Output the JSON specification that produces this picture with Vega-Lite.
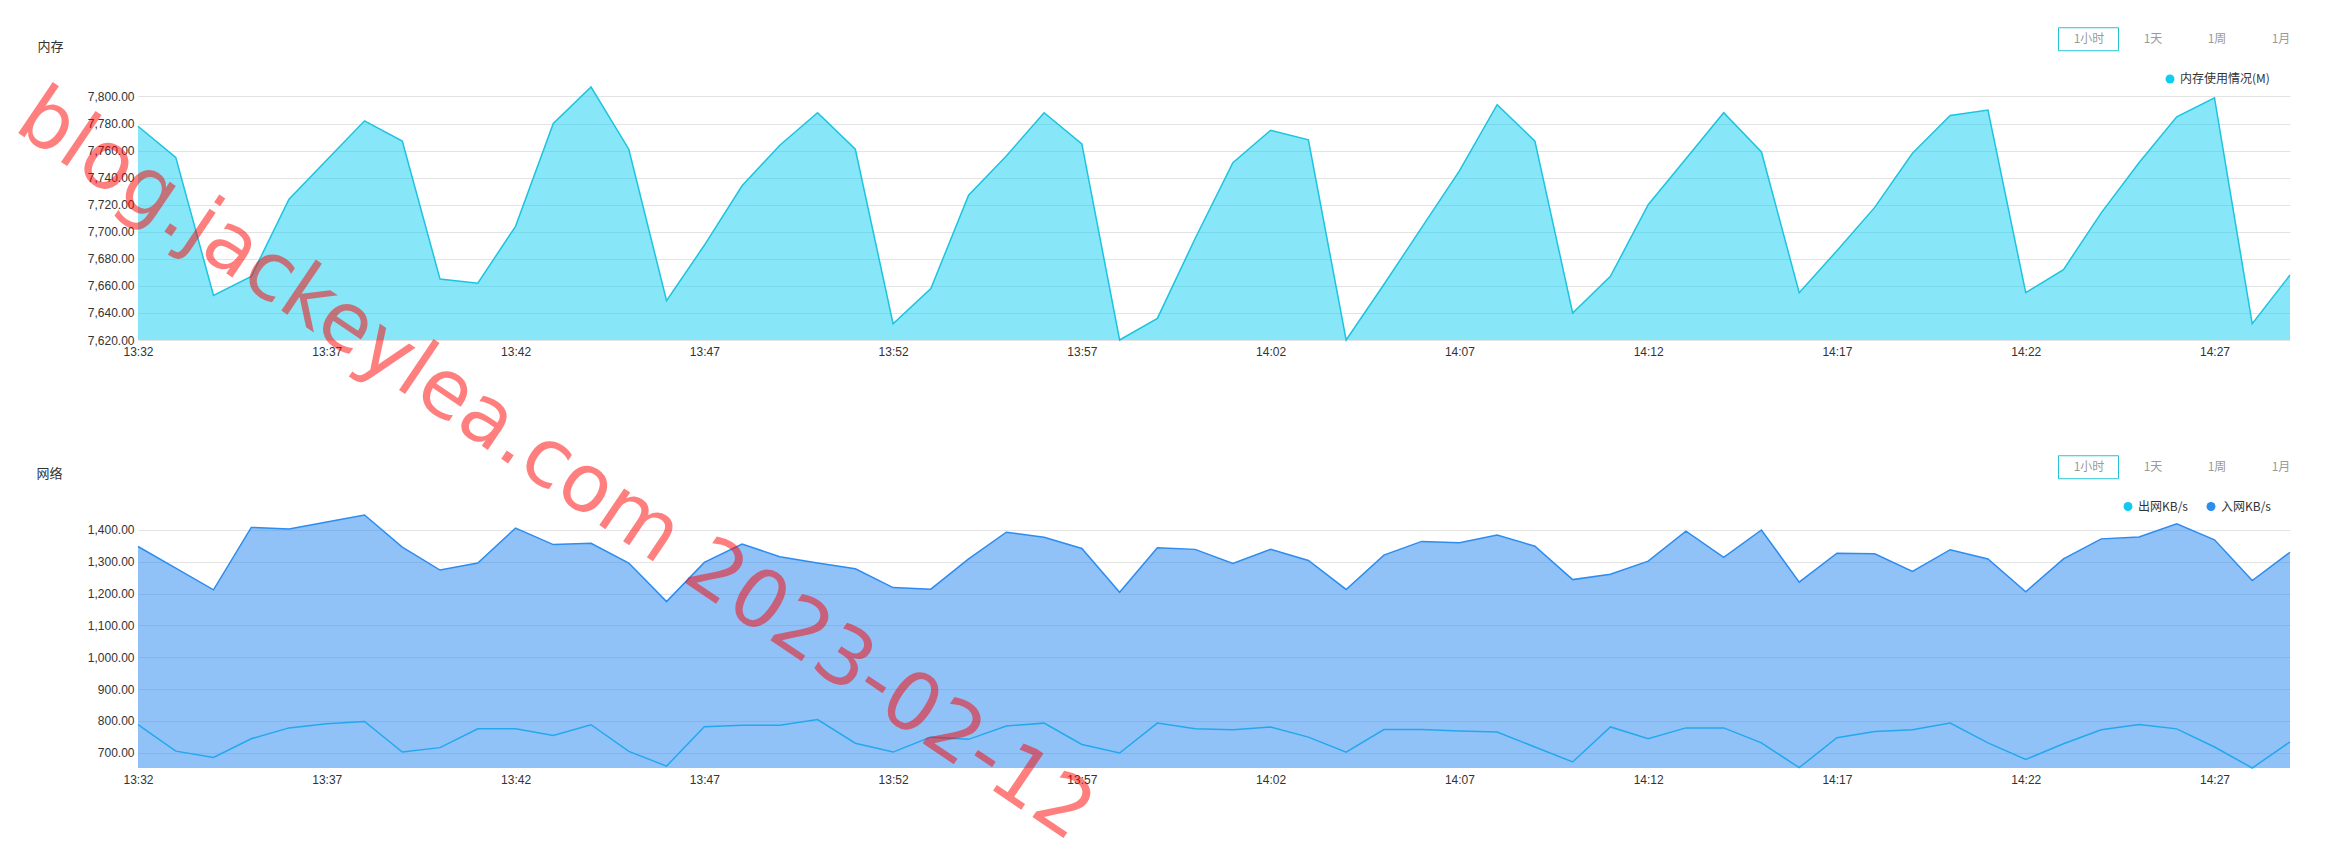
{
  "$schema": "https://vega.github.io/schema/vega-lite/v6.json",
  "background": "white",
  "padding": {"left": 3, "top": 27, "right": 0, "bottom": 0},
  "spacing": 175,
  "bounds": "flush",
  "config": {
    "view": {"stroke": null},
    "axis": {"labelFont": "Liberation Sans", "labelFontSize": 12, "labelColor": "#333", "ticks": false, "tickSize": 0, "domain": false, "gridColor": "#e3e3e3", "gridWidth": 1, "titleFont": "Noto Sans CJK SC", "titleFontSize": 13, "titleFontWeight": "normal", "titleColor": "#333", "labelOverlap": false},
    "axisX": {"grid": false, "labelPadding": 6, "labelFlush": false},
    "axisY": {"grid": true, "labelPadding": 4},
    "legend": {"padding": 0, "labelFont": "Noto Sans CJK SC", "labelFontSize": 12}
  },
  "resolve": {"scale": {"color": "independent", "stroke": "independent"}, "legend": {"color": "independent", "stroke": "independent"}},
  "vconcat": [
    {
      "width": 2152,
      "height": 253,
      "data": {
        "values": [
          {"t":"13:32","mem":7778},{"t":"13:33","mem":7755},{"t":"13:34","mem":7653},{"t":"13:35","mem":7667},{"t":"13:36","mem":7724},{"t":"13:37","mem":7753},{"t":"13:38","mem":7782},{"t":"13:39","mem":7767},{"t":"13:40","mem":7665},{"t":"13:41","mem":7662},
          {"t":"13:42","mem":7704},{"t":"13:43","mem":7780},{"t":"13:44","mem":7807},{"t":"13:45","mem":7761},{"t":"13:46","mem":7649},{"t":"13:47","mem":7690},{"t":"13:48","mem":7734},{"t":"13:49","mem":7764},{"t":"13:50","mem":7788},{"t":"13:51","mem":7761},
          {"t":"13:52","mem":7632},{"t":"13:53","mem":7658},{"t":"13:54","mem":7727},{"t":"13:55","mem":7756},{"t":"13:56","mem":7788},{"t":"13:57","mem":7765},{"t":"13:58","mem":7620},{"t":"13:59","mem":7636},{"t":"14:00","mem":7695},{"t":"14:01","mem":7751},
          {"t":"14:02","mem":7775},{"t":"14:03","mem":7768},{"t":"14:04","mem":7620},{"t":"14:05","mem":7661},{"t":"14:06","mem":7703},{"t":"14:07","mem":7745},{"t":"14:08","mem":7794},{"t":"14:09","mem":7767},{"t":"14:10","mem":7640},{"t":"14:11","mem":7667},
          {"t":"14:12","mem":7720},{"t":"14:13","mem":7754},{"t":"14:14","mem":7788},{"t":"14:15","mem":7759},{"t":"14:16","mem":7655},{"t":"14:17","mem":7686},{"t":"14:18","mem":7718},{"t":"14:19","mem":7758},{"t":"14:20","mem":7786},{"t":"14:21","mem":7790},
          {"t":"14:22","mem":7655},{"t":"14:23","mem":7672},{"t":"14:24","mem":7714},{"t":"14:25","mem":7751},{"t":"14:26","mem":7785},{"t":"14:27","mem":7799},{"t":"14:28","mem":7632},{"t":"14:29","mem":7668}
        ],
        "format": {"parse": {"t": "date:'%H:%M'"}}
      },
      "transform": [{"fold": ["mem"], "as": ["s", "v"]}],
      "layer": [
        {
          "mark": {"type": "area", "fillOpacity": 0.5},
          "encoding": {
            "x": {
              "field": "t", "type": "temporal",
              "scale": {"domain": [{"year":1900,"month":1,"date":1,"hours":13,"minutes":32},{"year":1900,"month":1,"date":1,"hours":14,"minutes":29}], "nice": false},
              "axis": {"title": null, "format": "%H:%M", "tickCount": 60, "labelOverlap": false, "values": [
                {"year":1900,"month":1,"date":1,"hours":13,"minutes":32},{"year":1900,"month":1,"date":1,"hours":13,"minutes":37},{"year":1900,"month":1,"date":1,"hours":13,"minutes":42},{"year":1900,"month":1,"date":1,"hours":13,"minutes":47},
                {"year":1900,"month":1,"date":1,"hours":13,"minutes":52},{"year":1900,"month":1,"date":1,"hours":13,"minutes":57},{"year":1900,"month":1,"date":1,"hours":14,"minutes":2},{"year":1900,"month":1,"date":1,"hours":14,"minutes":7},
                {"year":1900,"month":1,"date":1,"hours":14,"minutes":12},{"year":1900,"month":1,"date":1,"hours":14,"minutes":17},{"year":1900,"month":1,"date":1,"hours":14,"minutes":22},{"year":1900,"month":1,"date":1,"hours":14,"minutes":27}]}
            },
            "y": {
              "field": "v", "type": "quantitative",
              "scale": {"domain": [7620, 7807], "zero": false, "nice": false},
              "axis": {"values": [7620,7640,7660,7680,7700,7720,7740,7760,7780,7800], "tickCount": 20, "labelOverlap": false, "format": ",.2f", "title": "内存", "titleAngle": 0, "titleAlign": "left", "titleBaseline": "middle", "titleX": -101, "titleY": -41}
            },
            "y2": {"datum": 7620},
            "color": {
              "field": "s", "type": "nominal",
              "scale": {"domain": ["mem"], "range": ["#0fcdf0"]},
              "legend": {"orient": "none", "legendX": 2026, "legendY": -14, "title": null, "symbolType": "circle", "symbolSize": 80, "symbolOpacity": 1, "symbolStrokeWidth": 0, "labelColor": "#333", "labelOffset": 4, "labelExpr": "'内存使用情况(M)'", "encode": {"symbols": {"update": {"fillOpacity": {"value": 1}}}}}
            }
          }
        },
        {
          "mark": {"type": "line", "stroke": "#1cc4e0", "strokeWidth": 1.5},
          "encoding": {"x": {"field": "t", "type": "temporal"}, "y": {"field": "v", "type": "quantitative"}}
        },
        {
          "data": {"values": [{"b":"1小时"},{"b":"1天"},{"b":"1周"},{"b":"1月"}]},
          "mark": {"type": "point", "filled": false, "size": 0, "opacity": 0},
          "encoding": {
            "stroke": {
              "field": "b", "type": "nominal",
              "scale": {"domain": ["1小时","1天","1周","1月"], "range": ["#25c2d6","transparent","transparent","transparent"]},
              "legend": {"orient": "none", "legendX": 1920, "legendY": -60, "direction": "horizontal", "title": null, "symbolType": "M-1,-1H4.2174V1H-1Z", "symbolSize": 529, "symbolStrokeWidth": 1, "symbolOpacity": 1, "symbolFillColor": "transparent", "labelOffset": 7, "labelAlign": "center", "labelBaseline": "middle", "labelColor": "#9a9a9a", "columnPadding": -1}
            }
          }
        }
      ]
    },
    {
      "width": 2152,
      "height": 253,
      "data": {
        "values": [
          {"t":"13:32","out":788,"in":1348},{"t":"13:33","out":705,"in":1280},{"t":"13:34","out":685,"in":1212},{"t":"13:35","out":744,"in":1408},{"t":"13:36","out":778,"in":1403},{"t":"13:37","out":791,"in":1425},{"t":"13:38","out":798,"in":1447},{"t":"13:39","out":702,"in":1346},{"t":"13:40","out":716,"in":1274},{"t":"13:41","out":775,"in":1296},
          {"t":"13:42","out":775,"in":1406},{"t":"13:43","out":754,"in":1354},{"t":"13:44","out":788,"in":1358},{"t":"13:45","out":704,"in":1296},{"t":"13:46","out":658,"in":1175},{"t":"13:47","out":782,"in":1298},{"t":"13:48","out":786,"in":1356},{"t":"13:49","out":786,"in":1316},{"t":"13:50","out":804,"in":1296},{"t":"13:51","out":730,"in":1278},
          {"t":"13:52","out":702,"in":1219},{"t":"13:53","out":749,"in":1214},{"t":"13:54","out":742,"in":1309},{"t":"13:55","out":784,"in":1393},{"t":"13:56","out":793,"in":1377},{"t":"13:57","out":726,"in":1342},{"t":"13:58","out":699,"in":1204},{"t":"13:59","out":793,"in":1344},{"t":"14:00","out":775,"in":1339},{"t":"14:01","out":772,"in":1295},
          {"t":"14:02","out":781,"in":1339},{"t":"14:03","out":749,"in":1304},{"t":"14:04","out":702,"in":1213},{"t":"14:05","out":773,"in":1321},{"t":"14:06","out":773,"in":1364},{"t":"14:07","out":768,"in":1360},{"t":"14:08","out":765,"in":1384},{"t":"14:09","out":718,"in":1349},{"t":"14:10","out":671,"in":1244},{"t":"14:11","out":781,"in":1261},
          {"t":"14:12","out":744,"in":1302},{"t":"14:13","out":778,"in":1396},{"t":"14:14","out":778,"in":1314},{"t":"14:15","out":731,"in":1400},{"t":"14:16","out":653,"in":1236},{"t":"14:17","out":747,"in":1327},{"t":"14:18","out":767,"in":1325},{"t":"14:19","out":772,"in":1270},{"t":"14:20","out":793,"in":1338},{"t":"14:21","out":731,"in":1309},
          {"t":"14:22","out":679,"in":1206},{"t":"14:23","out":728,"in":1309},{"t":"14:24","out":772,"in":1372},{"t":"14:25","out":789,"in":1378},{"t":"14:26","out":775,"in":1419},{"t":"14:27","out":718,"in":1369},{"t":"14:28","out":652,"in":1241},{"t":"14:29","out":734,"in":1330}
        ],
        "format": {"parse": {"t": "date:'%H:%M'"}}
      },
      "transform": [{"fold": ["out", "in"], "as": ["s", "v"]}],
      "layer": [
        {
          "transform": [{"filter": "datum.s == 'out'"}],
          "mark": {"type": "line", "stroke": "#18c8ee", "strokeWidth": 1.5},
          "encoding": {
            "x": {
              "field": "t", "type": "temporal",
              "scale": {"domain": [{"year":1900,"month":1,"date":1,"hours":13,"minutes":32},{"year":1900,"month":1,"date":1,"hours":14,"minutes":29}], "nice": false},
              "axis": {"title": null, "format": "%H:%M", "tickCount": 60, "labelOverlap": false, "values": [
                {"year":1900,"month":1,"date":1,"hours":13,"minutes":32},{"year":1900,"month":1,"date":1,"hours":13,"minutes":37},{"year":1900,"month":1,"date":1,"hours":13,"minutes":42},{"year":1900,"month":1,"date":1,"hours":13,"minutes":47},
                {"year":1900,"month":1,"date":1,"hours":13,"minutes":52},{"year":1900,"month":1,"date":1,"hours":13,"minutes":57},{"year":1900,"month":1,"date":1,"hours":14,"minutes":2},{"year":1900,"month":1,"date":1,"hours":14,"minutes":7},
                {"year":1900,"month":1,"date":1,"hours":14,"minutes":12},{"year":1900,"month":1,"date":1,"hours":14,"minutes":17},{"year":1900,"month":1,"date":1,"hours":14,"minutes":22},{"year":1900,"month":1,"date":1,"hours":14,"minutes":27}]}
            },
            "y": {
              "field": "v", "type": "quantitative",
              "scale": {"domain": [652, 1447], "zero": false, "nice": false},
              "axis": {"values": [700,800,900,1000,1100,1200,1300,1400], "tickCount": 20, "labelOverlap": false, "format": ",.2f", "title": "网络", "titleAngle": 0, "titleAlign": "left", "titleBaseline": "middle", "titleX": -102, "titleY": -42}
            }
          }
        },
        {
          "transform": [{"filter": "datum.s == 'in'"}],
          "mark": {"type": "area", "fillOpacity": 0.53},
          "encoding": {
            "x": {"field": "t", "type": "temporal"},
            "y": {"field": "v", "type": "quantitative"},
            "y2": {"datum": 652},
            "color": {
              "field": "s", "type": "nominal",
              "scale": {"domain": ["out", "in"], "range": ["#14c8ee", "#2d8cf0"]},
              "legend": {"orient": "none", "legendX": 1984, "legendY": -14.5, "direction": "horizontal", "title": null, "symbolType": "circle", "symbolSize": 80, "symbolOpacity": 1, "symbolStrokeWidth": 0, "labelColor": "#333", "labelOffset": 4, "columnPadding": 17, "labelExpr": "datum.label == 'out' ? '出网KB/s' : '入网KB/s'", "encode": {"symbols": {"update": {"fillOpacity": {"value": 1}}}}}
            }
          }
        },
        {
          "transform": [{"filter": "datum.s == 'in'"}],
          "mark": {"type": "line", "stroke": "#2d8cf0", "strokeWidth": 1.5},
          "encoding": {"x": {"field": "t", "type": "temporal"}, "y": {"field": "v", "type": "quantitative"}}
        },
        {
          "data": {"values": [{"b":"1小时"},{"b":"1天"},{"b":"1周"},{"b":"1月"}]},
          "mark": {"type": "point", "filled": false, "size": 0, "opacity": 0},
          "encoding": {
            "stroke": {
              "field": "b", "type": "nominal",
              "scale": {"domain": ["1小时","1天","1周","1月"], "range": ["#25c2d6","transparent","transparent","transparent"]},
              "legend": {"orient": "none", "legendX": 1920, "legendY": -60, "direction": "horizontal", "title": null, "symbolType": "M-1,-1H4.2174V1H-1Z", "symbolSize": 529, "symbolStrokeWidth": 1, "symbolOpacity": 1, "symbolFillColor": "transparent", "labelOffset": 7, "labelAlign": "center", "labelBaseline": "middle", "labelColor": "#9a9a9a", "columnPadding": -1}
            }
          }
        },
        {
          "data": {"values": [{"wm": "blog.jackeylea.com 2023-02-12"}]},
          "mark": {"type": "text", "angle": 34, "align": "left", "baseline": "alphabetic", "font": "DejaVu Sans", "fontSize": 81, "color": "#ff0000", "opacity": 0.5},
          "encoding": {
            "text": {"field": "wm"},
            "x": {"datum": {"year":1900,"month":1,"date":1,"hours":13,"minutes":28,"seconds":40}, "type": "temporal"},
            "y": {"datum": 2660, "type": "quantitative"}
          }
        }
      ]
    }
  ]
}
